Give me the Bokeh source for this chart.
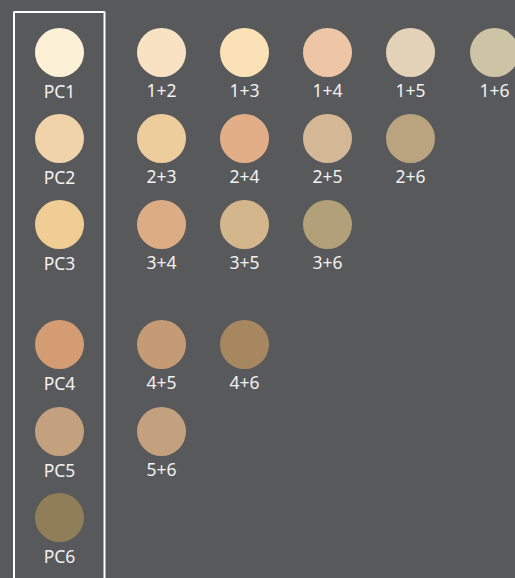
from bokeh.plotting import figure
from bokeh.models import ColumnDataSource, Range1d
from bokeh.core.properties import value
from bokeh.embed import file_html
from bokeh.resources import INLINE

# Shade pairs (a, b): a == b means pure shade PCa, otherwise the mix "a+b"
shade_a = [1, 2, 3, 4, 5, 6,
           1, 1, 1, 1, 1,
           2, 2, 2, 2,
           3, 3, 3,
           4, 4,
           5]
shade_b = [1, 2, 3, 4, 5, 6,
           2, 3, 4, 5, 6,
           3, 4, 5, 6,
           4, 5, 6,
           5, 6,
           6]
colors = ["#fcf0d6", "#f0d3a9", "#efcd95", "#d49c72", "#c3a17f", "#907e58",
          "#f8e2c3", "#fae1b6", "#eec6a5", "#e3d2b7", "#cdc4a6",
          "#edcd9b", "#e1ae88", "#d4b794", "#b9a47f",
          "#dcac84", "#d3b68b", "#b2a078",
          "#c59b75", "#a6875f",
          "#c3a17f"]

labels = [f"PC{a}" if a == b else f"{a}+{b}" for a, b in zip(shade_a, shade_b)]

COL_X = [59, 161, 244, 327, 410, 494]
ROW_Y = {1: 52, 2: 138, 3: 224, 4: 344, 5: 431, 6: 517}

xs = [COL_X[b - a] for a, b in zip(shade_a, shade_b)]
ys = [ROW_Y[a] for a in shade_a]
ly = [y + 38 for y in ys]

src = ColumnDataSource(dict(x=xs, y=ys, ly=ly, color=colors, label=labels))

BG = "#58595b"
p = figure(width=515, height=578, output_backend="svg", toolbar_location=None,
           x_range=Range1d(0, 515), y_range=Range1d(578, 0),
           background_fill_color=BG, border_fill_color=BG, min_border=0,
           outline_line_color=None)
p.axis.visible = False
p.grid.visible = False

# frame around the pure shades
p.line(x=[13.5, 13.5, 104, 104], y=[600, 11.5, 11.5, 600], line_color="white", line_width=2)

p.circle(x="x", y="y", radius=24.5, fill_color="color", line_color=None, source=src)
p.text(x="x", y="ly", text="label", source=src, text_align="center",
       text_baseline="middle", text_color="#f2f2f2", text_font=value("Noto Sans"),
       text_font_size="17.5px")

html = file_html(p, INLINE)
html = html.replace("<body>", '<body style="background:#58595b">')
open("out.html", "w").write(html)
